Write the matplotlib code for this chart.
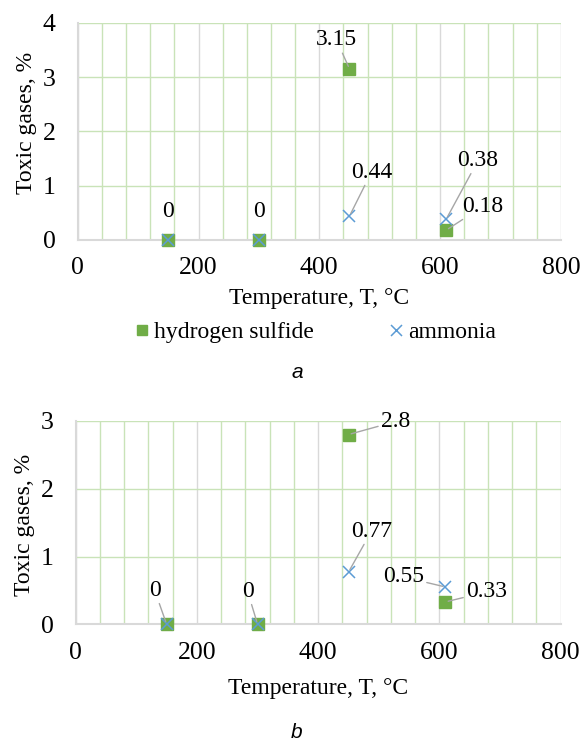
"""Toxic gas release vs. temperature, two panels (a, b)."""

import matplotlib
matplotlib.use('Agg')
import matplotlib.pyplot as plt
from matplotlib.ticker import MultipleLocator

temps = [150, 300, 450, 610]

h2s_a = [0, 0, 3.15, 0.18]
nh3_a = [0, 0, 0.44, 0.38]

h2s_b = [0, 0, 2.8, 0.33]
nh3_b = [0, 0, 0.77, 0.55]

GREEN = '#70AD47'
BLUE = '#5B9BD5'
GRID_GREEN = '#C9E3B8'
GRID_GRAY = '#D9D9D9'
LEADER = '#A6A6A6'

plt.rcParams['font.family'] = ['Liberation Serif', 'DejaVu Serif']
plt.rcParams['font.size'] = 17


def setup_axes(ax, ymax, xpad, ylab_y):
    ax.set_xlim(0, 800)
    ax.set_ylim(0, ymax)
    ax.xaxis.set_major_locator(MultipleLocator(200))
    ax.xaxis.set_minor_locator(MultipleLocator(40))
    ax.yaxis.set_major_locator(MultipleLocator(1))
    ax.grid(which='minor', axis='x', color=GRID_GREEN, lw=1)
    ax.grid(which='major', axis='x', color=GRID_GRAY, lw=1)
    ax.grid(which='major', axis='y', color=GRID_GREEN, lw=1)
    ax.set_axisbelow(True)
    ax.tick_params(which='both', length=0, labelsize=18.5)
    ax.tick_params(axis='x', pad=12.5)
    ax.tick_params(axis='y', pad=16)
    for side in ('top', 'right'):
        ax.spines[side].set_visible(False)
    for side in ('left', 'bottom'):
        ax.spines[side].set_color(GRID_GRAY)
        ax.spines[side].set_linewidth(1.5)
    ax.set_xlabel('Temperature, T, °C', labelpad=xpad)
    ax.set_ylabel('Toxic gases, %')
    ax.yaxis.set_label_coords(-0.084, ylab_y)


def points(ax, h2s, nh3):
    ax.plot(temps, h2s, 's', ms=8.2, color=GREEN, label='hydrogen sulfide',
            clip_on=False, zorder=3)
    ax.plot(temps, nh3, 'x', ms=9, mew=1.1, color=BLUE, label='ammonia',
            clip_on=False, zorder=4)


def label(ax, x, y, text, dx, dy, leader=True):
    props = dict(arrowstyle='-', color=LEADER, lw=1,
                 shrinkA=0, shrinkB=2) if leader else None
    ax.annotate(text, (x, y), xytext=(dx, dy), textcoords='offset pixels',
                ha='center', va='center', arrowprops=props, zorder=5)


fig = plt.figure(figsize=(5.8, 7.4), dpi=100)

# panel a
ax1 = fig.add_axes([0.134, 0.6757, 0.833, 0.2936])
setup_axes(ax1, 4, 6, 0.54)
points(ax1, h2s_a, nh3_a)
label(ax1, temps[0], h2s_a[0], '0', 0, 28, leader=False)
label(ax1, temps[1], h2s_a[1], '0', 0, 28, leader=False)
label(ax1, temps[2], h2s_a[2], '3.15', -13, 29)
label(ax1, temps[2], nh3_a[2], '0.44', 22, 44)
label(ax1, temps[3], nh3_a[3], '0.38', 32, 59)
label(ax1, temps[3], h2s_a[3], '0.18', 37, 24)
fig.legend(*ax1.get_legend_handles_labels(), loc='center',
           bbox_to_anchor=(314 / 580, 1 - 332 / 740), ncol=2, frameon=False,
           columnspacing=3.1, handletextpad=0.1, handlelength=0.8,
           markerscale=0.88, fontsize=17)
fig.text(297 / 580, 1 - 372 / 740, 'a', family='Liberation Sans',
         style='italic', fontsize=15, ha='center', va='center')

# panel b
ax2 = fig.add_axes([0.1305, 0.1564, 0.8362, 0.2747])
setup_axes(ax2, 3, 10, 0.49)
points(ax2, h2s_b, nh3_b)
label(ax2, temps[0], h2s_b[0], '0', -12, 34)
label(ax2, temps[1], h2s_b[1], '0', -10, 33)
label(ax2, temps[2], h2s_b[2], '2.8', 47, 13)
label(ax2, temps[2], nh3_b[2], '0.77', 23, 41)
label(ax2, temps[3], nh3_b[3], '0.55', -42, 10)
label(ax2, temps[3], h2s_b[3], '0.33', 41, 10)
fig.text(297 / 580, 1 - 732 / 740, 'b', family='Liberation Sans',
         style='italic', fontsize=15, ha='center', va='center')

fig.savefig('out.png', dpi=100)
